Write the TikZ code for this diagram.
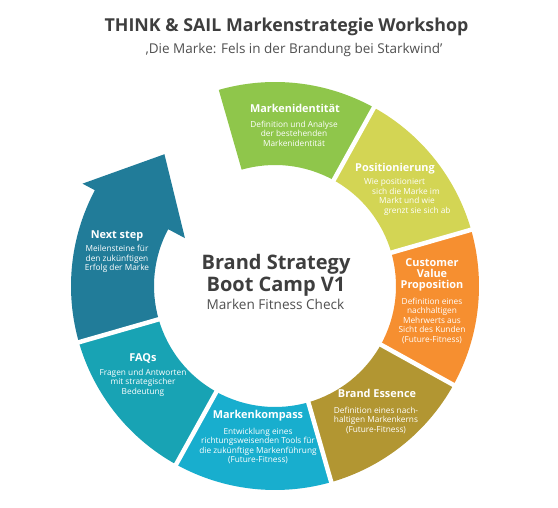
\documentclass[tikz,border=0pt]{standalone}
\usepackage{fontspec}
\setmainfont{Open Sans}
\definecolor{cgreen}{RGB}{143,198,75}
\definecolor{cyellow}{RGB}{211,213,84}
\definecolor{corange}{RGB}{246,143,48}
\definecolor{cgold}{RGB}{178,150,50}
\definecolor{ccyan}{RGB}{24,174,206}
\definecolor{cteal}{RGB}{24,163,180}
\definecolor{cpetrol}{RGB}{33,124,153}
\definecolor{ctext}{RGB}{62,62,62}
\definecolor{csub}{RGB}{80,80,80}
\begin{document}
\begin{tikzpicture}[x=1pt,y=-1pt,
  segtitle/.style={text=white, font=\fontsize{10.9}{11}\selectfont\bfseries, inner sep=0pt, anchor=base},
  segtitlem/.style={text=white, font=\fontsize{10.9}{11}\selectfont\bfseries, inner sep=0pt, align=center},
  segdesc/.style={text=white, font=\fontsize{8.3}{9.5}\selectfont, inner sep=0pt, align=center},
  gap/.style={white, line width=4.5pt}
]
\useasboundingbox (0,0) rectangle (558,508);
\fill[white] (0,0) rectangle (558,508);

% ring
\begin{scope}[shift={(275,286)}, yscale=-1]
  \newcommand{\seg}[3]{\fill[#1] (#2:204) arc[start angle=#2, end angle=#3, radius=204] -- (#3:121) arc[start angle=#3, end angle=#2, radius=121] -- cycle;}
  \seg{cgreen}{106}{61}
  \seg{cyellow}{61}{16}
  \seg{corange}{16}{-29}
  \seg{cgold}{-29}{-74}
  \seg{ccyan}{-74}{-119}
  \seg{cteal}{-119}{-164}
  % arrow
  \fill[cpetrol] (196:204) arc[start angle=196, end angle=152, radius=204]
     -- (152:218) -- (130:172) -- (152:102) -- (152:121)
     arc[start angle=152, end angle=196, radius=121] -- cycle;
  % gaps
  \foreach \a in {61,16,-29,-74,-119,-164}
    \draw[gap] (\a:112) -- (\a:214);
\end{scope}

% headings
\node[anchor=base, text=ctext, font=\fontsize{17.8}{19}\selectfont\bfseries, inner sep=0pt] (title) at (286.5,32) {THINK \& SAIL Markenstrategie Workshop};
\node[anchor=base, text=csub, font=\fontsize{13.5}{15}\selectfont, inner sep=0pt] (subtitle) at (294,54) {‚Die Marke: Fels in der Brandung bei Starkwind’};

% centre
\node[anchor=base, text=ctext, font=\fontsize{20}{22}\selectfont\bfseries, inner sep=0pt] (c1) at (276,270) {Brand Strategy};
\node[anchor=base, text=ctext, font=\fontsize{20}{22}\selectfont\bfseries, inner sep=0pt] (c2) at (276,292) {Boot Camp V1};
\node[anchor=base, text=csub, font=\fontsize{13.6}{15}\selectfont, inner sep=0pt] (c3) at (275.5,310) {Marken Fitness Check};

% segment labels
\node[segtitle] (t1) at (295,113) {Markenidentität};
\node[segdesc] (d1) at (294,133.5) {Definition und Analyse\\der bestehenden\\Markenidentität};

\node[segtitle] (t2) at (395,172) {Positionierung};
\node[segdesc, align=left, anchor=west] (d2) at (364,197) {Wie positioniert\\\hspace*{8pt}sich die Marke im\\\hspace*{15pt}Markt und wie\\\hspace*{20pt}grenzt sie sich ab};

\node[segtitlem] (t3) at (432,275) {Customer\\Value\\Proposition};
\node[segdesc] (d3) at (432,320.5) {Definition eines\\nachhaltigen\\Mehrwerts aus\\Sicht des Kunden\\(Future-Fitness)};

\node[segtitle] (t4) at (377,398) {Brand Essence};
\node[segdesc] (d4) at (376,420) {Definition eines nach-\\haltigen Markenkerns\\(Future-Fitness)};

\node[segtitle] (t5) at (258,419) {Markenkompass};
\node[segdesc] (d5) at (258,446) {Entwicklung eines\\richtungsweisenden Tools für\\die zukünftige Markenführung\\(Future-Fitness)};

\node[segtitle] (t6) at (143,362) {FAQs};
\node[segdesc] (d6) at (143,382.5) {Fragen und Antworten\\mit strategischer\\Bedeutung};

\node[segtitle] (t7) at (117,239) {Next step};
\node[segdesc] (d7) at (117,259) {Meilensteine für\\den zukünftigen\\Erfolg der Marke};
\end{tikzpicture}
\end{document}
